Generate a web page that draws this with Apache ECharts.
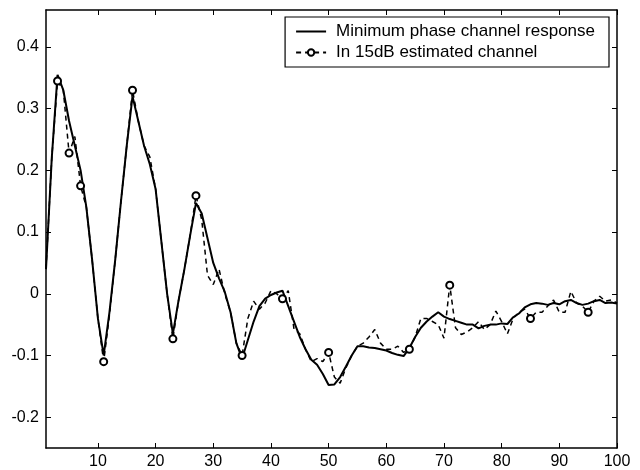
<!DOCTYPE html>
<html>
<head>
<meta charset="utf-8">
<script src="https://cdn.jsdelivr.net/npm/echarts@6/dist/echarts.min.js"></script>
<style>html,body{margin:0;padding:0;background:#fff;}#c{width:640px;height:470px;}</style>
</head>
<body>
<div id="c"></div>
<script>
// Tap index 1..100
const taps = Array.from({length: 100}, (_, i) => i + 1);

const trueResponse = [
  0.04, 0.22, 0.355, 0.33, 0.28, 0.24, 0.2, 0.14, 0.055, -0.04,
  -0.1, -0.03, 0.055, 0.15, 0.24, 0.32, 0.28, 0.24, 0.21, 0.17,
  0.085, 0.0, -0.065, -0.01, 0.04, 0.095, 0.147, 0.13, 0.09, 0.05,
  0.025, 0.003, -0.03, -0.08, -0.105, -0.075, -0.045, -0.02, -0.008, -0.002,
  0.002, 0.005, -0.02, -0.045, -0.07, -0.09, -0.107, -0.115, -0.13, -0.148,
  -0.147, -0.135, -0.118, -0.1, -0.085, -0.085, -0.087, -0.088, -0.09, -0.092,
  -0.096, -0.099, -0.101, -0.088, -0.07, -0.055, -0.045, -0.037, -0.03, -0.037,
  -0.041, -0.044, -0.047, -0.05, -0.05, -0.056, -0.052, -0.05, -0.05, -0.048,
  -0.049, -0.038, -0.032, -0.022, -0.017, -0.015, -0.016, -0.018, -0.015, -0.017,
  -0.012, -0.01, -0.015, -0.018, -0.016, -0.012, -0.01, -0.015, -0.014, -0.016
];

const estimated = [
  0.04, 0.22, 0.345, 0.33, 0.228, 0.255, 0.175, 0.14, 0.055, -0.04,
  -0.11, -0.035, 0.055, 0.15, 0.24, 0.33, 0.28, 0.24, 0.222, 0.17,
  0.085, 0.0, -0.073, -0.01, 0.04, 0.095, 0.159, 0.12, 0.03, 0.015,
  0.04, 0.0, -0.03, -0.08, -0.1, -0.04, -0.012, -0.025, -0.015, 0.005,
  0.0, -0.008, 0.005, -0.057, -0.065, -0.09, -0.11, -0.105, -0.11, -0.095,
  -0.135, -0.145, -0.12, -0.1, -0.085, -0.08, -0.07, -0.058, -0.08, -0.09,
  -0.09, -0.085, -0.095, -0.09, -0.07, -0.04, -0.04, -0.045, -0.05, -0.072,
  0.014, -0.055, -0.066, -0.062, -0.055, -0.045, -0.058, -0.05, -0.028, -0.045,
  -0.065, -0.04, -0.03, -0.025, -0.04, -0.03, -0.03, -0.02, -0.01, -0.03,
  -0.03, 0.004, -0.015, -0.02, -0.03, -0.012, -0.004, -0.012, -0.01, -0.015
];

// Taps that carry a circle marker on the estimated curve
const markedTaps = [3, 5, 7, 11, 16, 23, 27, 35, 42, 50, 64, 71, 85, 95];

const xTicks = [10, 20, 30, 40, 50, 60, 70, 80, 90, 100];
const yTicks = [-0.2, -0.1, 0, 0.1, 0.2, 0.3, 0.4];

const seriesNames = ['Minimum phase channel response', 'In 15dB estimated channel'];

const FONT = 'Liberation Sans, Arial, Helvetica, sans-serif';
const markSet = new Set(markedTaps);

const solidData = taps.map((t, i) => [t, trueResponse[i]]);
const dashData = taps.map((t, i) => [t, estimated[i]]);

const chart = echarts.init(document.getElementById('c'), null, {renderer: 'canvas'});

const axisCommon = {
  type: 'value',
  axisLine: {show: true, onZero: false, lineStyle: {color: '#000', width: 1.5}},
  splitLine: {show: false}
};

chart.setOption({
  animation: false,
  backgroundColor: '#fff',
  grid: {left: 46, right: 23, top: 10, bottom: 22},
  legend: {
    orient: 'vertical',
    right: 31,
    top: 17,
    backgroundColor: '#fff',
    borderColor: '#000',
    borderWidth: 1.2,
    padding: [6, 14, 6, 10],
    itemGap: 4,
    itemWidth: 30,
    itemHeight: 8,
    textStyle: {fontFamily: FONT, fontSize: 17, color: '#000', padding: [0, 0, 0, 5]},
    data: [
      {name: seriesNames[0], itemStyle: {color: 'rgba(0,0,0,0)', borderColor: 'rgba(0,0,0,0)', borderWidth: 0}},
      {name: seriesNames[1]}
    ]
  },
  xAxis: [
    Object.assign({}, axisCommon, {
      min: 1, max: 100, position: 'bottom',
      axisTick: {show: true, inside: true, length: 5, customValues: xTicks, lineStyle: {color: '#000'}},
      axisLabel: {customValues: xTicks, fontFamily: FONT, fontSize: 16, color: '#000', margin: 6}
    }),
    Object.assign({}, axisCommon, {
      min: 1, max: 100, position: 'top',
      axisTick: {show: true, inside: true, length: 5, customValues: xTicks, lineStyle: {color: '#000'}},
      axisLabel: {show: false}
    })
  ],
  yAxis: [
    Object.assign({}, axisCommon, {
      min: -0.25, max: 0.46, position: 'left',
      axisTick: {show: true, inside: true, length: 5, customValues: yTicks, lineStyle: {color: '#000'}},
      axisLabel: {customValues: yTicks, fontFamily: FONT, fontSize: 16, color: '#000', margin: 7,
        formatter: v => String(Math.round(v * 100) / 100)}
    }),
    Object.assign({}, axisCommon, {
      min: -0.25, max: 0.46, position: 'right',
      axisTick: {show: true, inside: true, length: 5, customValues: yTicks, lineStyle: {color: '#000'}},
      axisLabel: {show: false}
    })
  ],
  series: [
    {
      name: seriesNames[0],
      type: 'line',
      data: solidData,
      symbol: 'none',
      lineStyle: {color: '#000', width: 2},
      itemStyle: {color: '#000'},
      z: 2
    },
    {
      name: seriesNames[1],
      type: 'line',
      data: dashData,
      symbol: 'emptyCircle',
      showAllSymbol: true,
      symbolSize: (val, p) => (p && markSet.has(val[0])) ? 7 : 0,
      lineStyle: {color: '#000', width: 1.5, type: [5, 4]},
      itemStyle: {color: '#000', borderColor: '#000', borderWidth: 1.5},
      z: 3
    }
  ]
});
</script>
</body>
</html>
